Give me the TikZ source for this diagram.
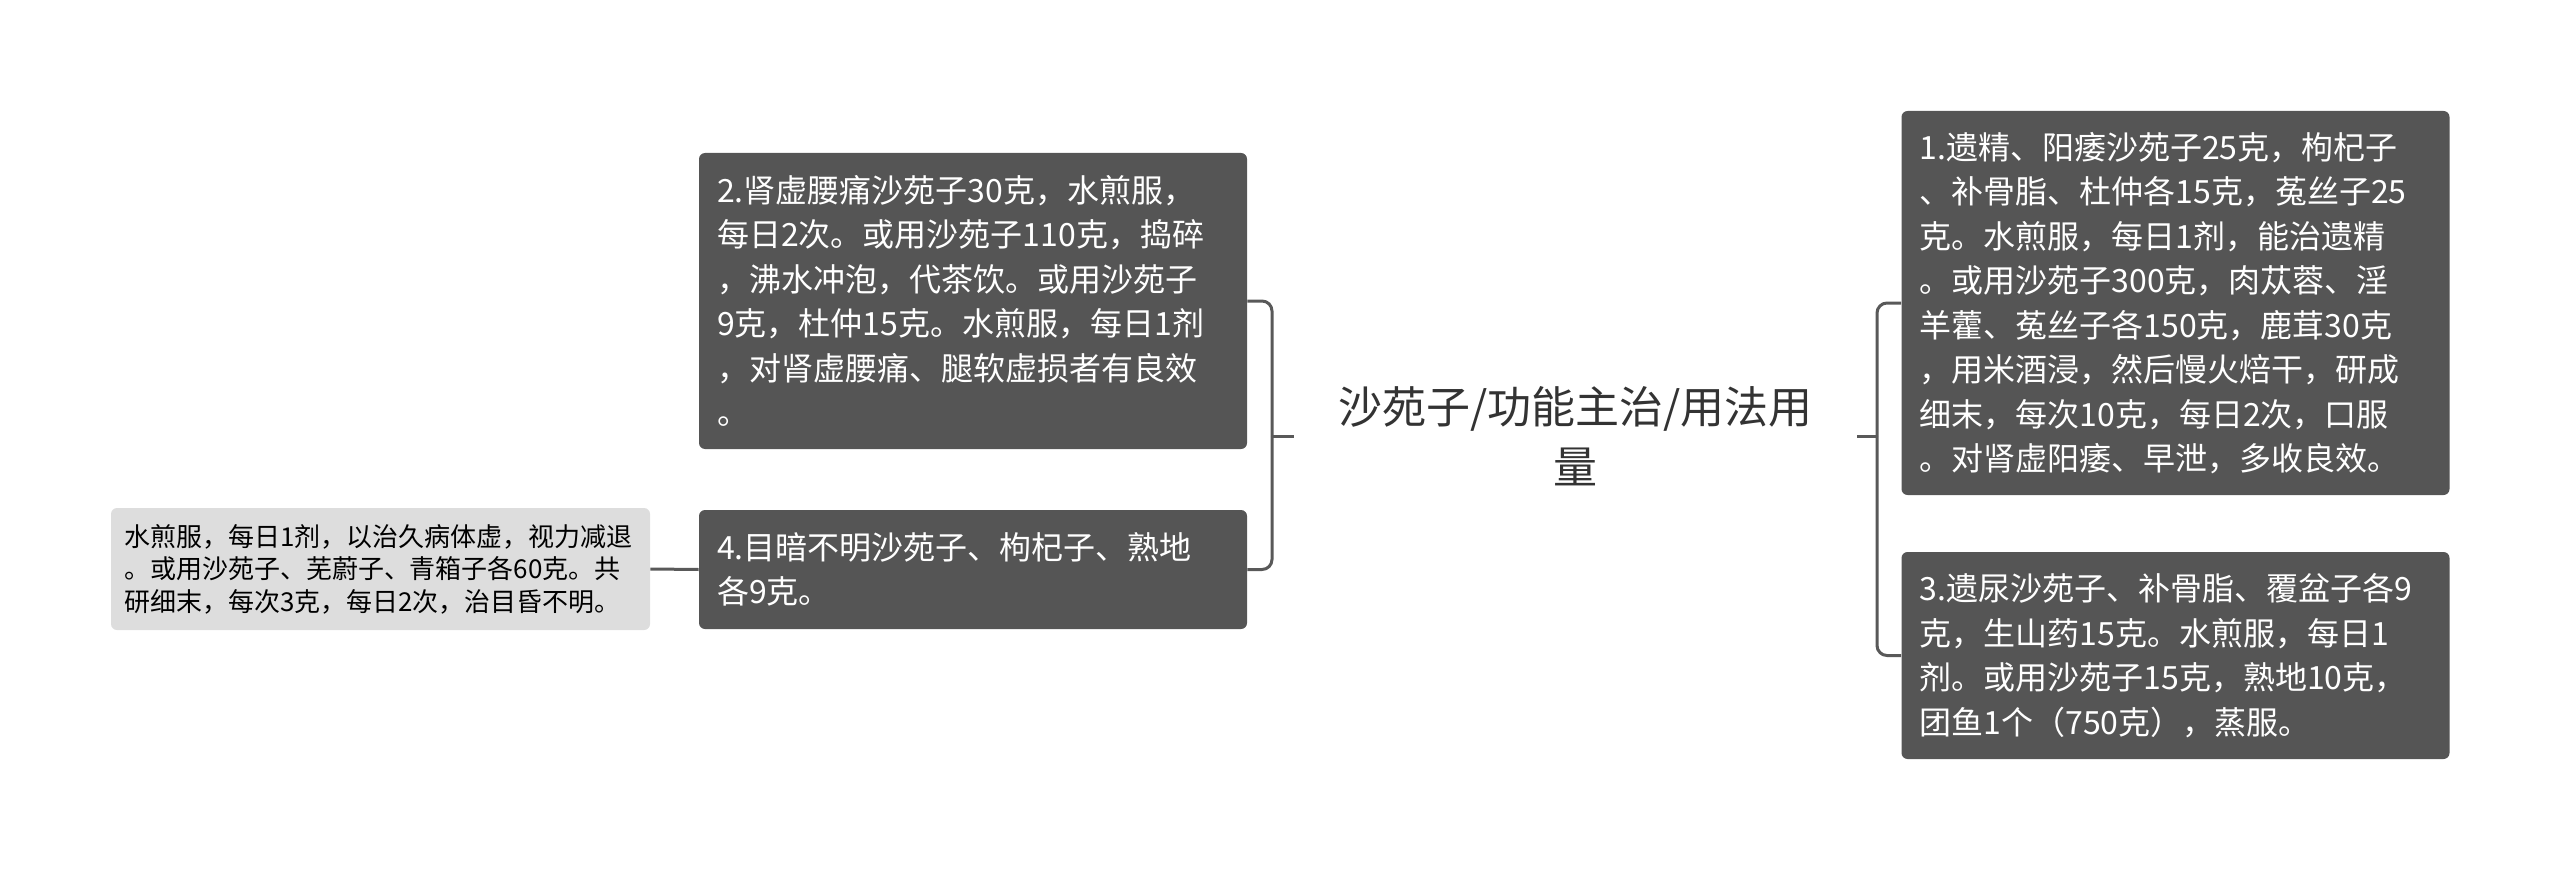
\documentclass[tikz,border=0pt]{standalone}
\usepackage{fontspec}
\setmainfont{Noto Sans CJK SC}
\definecolor{boxgray}{HTML}{555555}
\definecolor{palegray}{HTML}{DDDDDD}
\definecolor{linegray}{HTML}{595959}
\definecolor{titlegray}{HTML}{333333}
\begin{document}
\begin{tikzpicture}[x=0.5pt, y=-0.5pt,
    darkbox/.style={fill=boxgray, text=white, rounded corners=3pt, align=left, inner xsep=9pt, text width=256pt, minimum width=274pt, font=\fontsize{16pt}{22.25pt}\selectfont},
    lightbox/.style={fill=palegray, text=black, rounded corners=3pt, align=left, inner xsep=6.5pt, text width=256.5pt, minimum width=269.5pt, font=\fontsize{13pt}{16.3pt}\selectfont},
    link/.style={draw=linegray, line width=1.5pt, rounded corners=5pt}]
        \useasboundingbox (0,0) rectangle (2560,872);

        \node[align=center, text=titlegray, minimum width=281.5pt, font=\fontsize{22pt}{30pt}\selectfont] (topic) at (1575.5,436) {沙苑子/功能主治/用法用\\量};

        \node[darkbox, minimum height=192pt] (use1) at (2175.5,303) {1.遗精、阳痿沙苑子25克，枸杞子\\、补骨脂、杜仲各15克，菟丝子25\\克。水煎服，每日1剂，能治遗精\\。或用沙苑子300克，肉苁蓉、淫\\羊藿、菟丝子各150克，鹿茸30克\\，用米酒浸，然后慢火焙干，研成\\细末，每次10克，每日2次，口服\\。对肾虚阳痿、早泄，多收良效。};
        \node[darkbox, minimum height=103.5pt] (use3) at (2175.5,655.5) {3.遗尿沙苑子、补骨脂、覆盆子各9\\克，生山药15克。水煎服，每日1\\剂。或用沙苑子15克，熟地10克，\\团鱼1个（750克），蒸服。};
        \node[darkbox, minimum height=148pt] (use2) at (973,301) {2.肾虚腰痛沙苑子30克，水煎服，\\每日2次。或用沙苑子110克，捣碎\\，沸水冲泡，代茶饮。或用沙苑子\\9克，杜仲15克。水煎服，每日1剂\\，对肾虚腰痛、腿软虚损者有良效\\。};
        \node[darkbox, minimum height=59.5pt] (use4) at (973,569.5) {4.目暗不明沙苑子、枸杞子、熟地\\各9克。};
        \node[lightbox, minimum height=61pt] (use4note) at (380.5,569) {水煎服，每日1剂，以治久病体虚，视力减退\\。或用沙苑子、芜蔚子、青箱子各60克。共\\研细末，每次3克，每日2次，治目昏不明。};

        \coordinate (ljoin) at (1272,436);
        \coordinate (rjoin) at (1877,436);

        \draw[link] (topic.west) -- (ljoin);
        \draw[link] (ljoin) |- (use2.east);
        \draw[link] (ljoin) |- (use4.east);
        \draw[link] (topic.east) -- (rjoin);
        \draw[link] (rjoin) |- (use1.west);
        \draw[link] (rjoin) |- (use3.west);
        \draw[link] (use4note.east) -- (use4.west);
\end{tikzpicture}
\end{document}
